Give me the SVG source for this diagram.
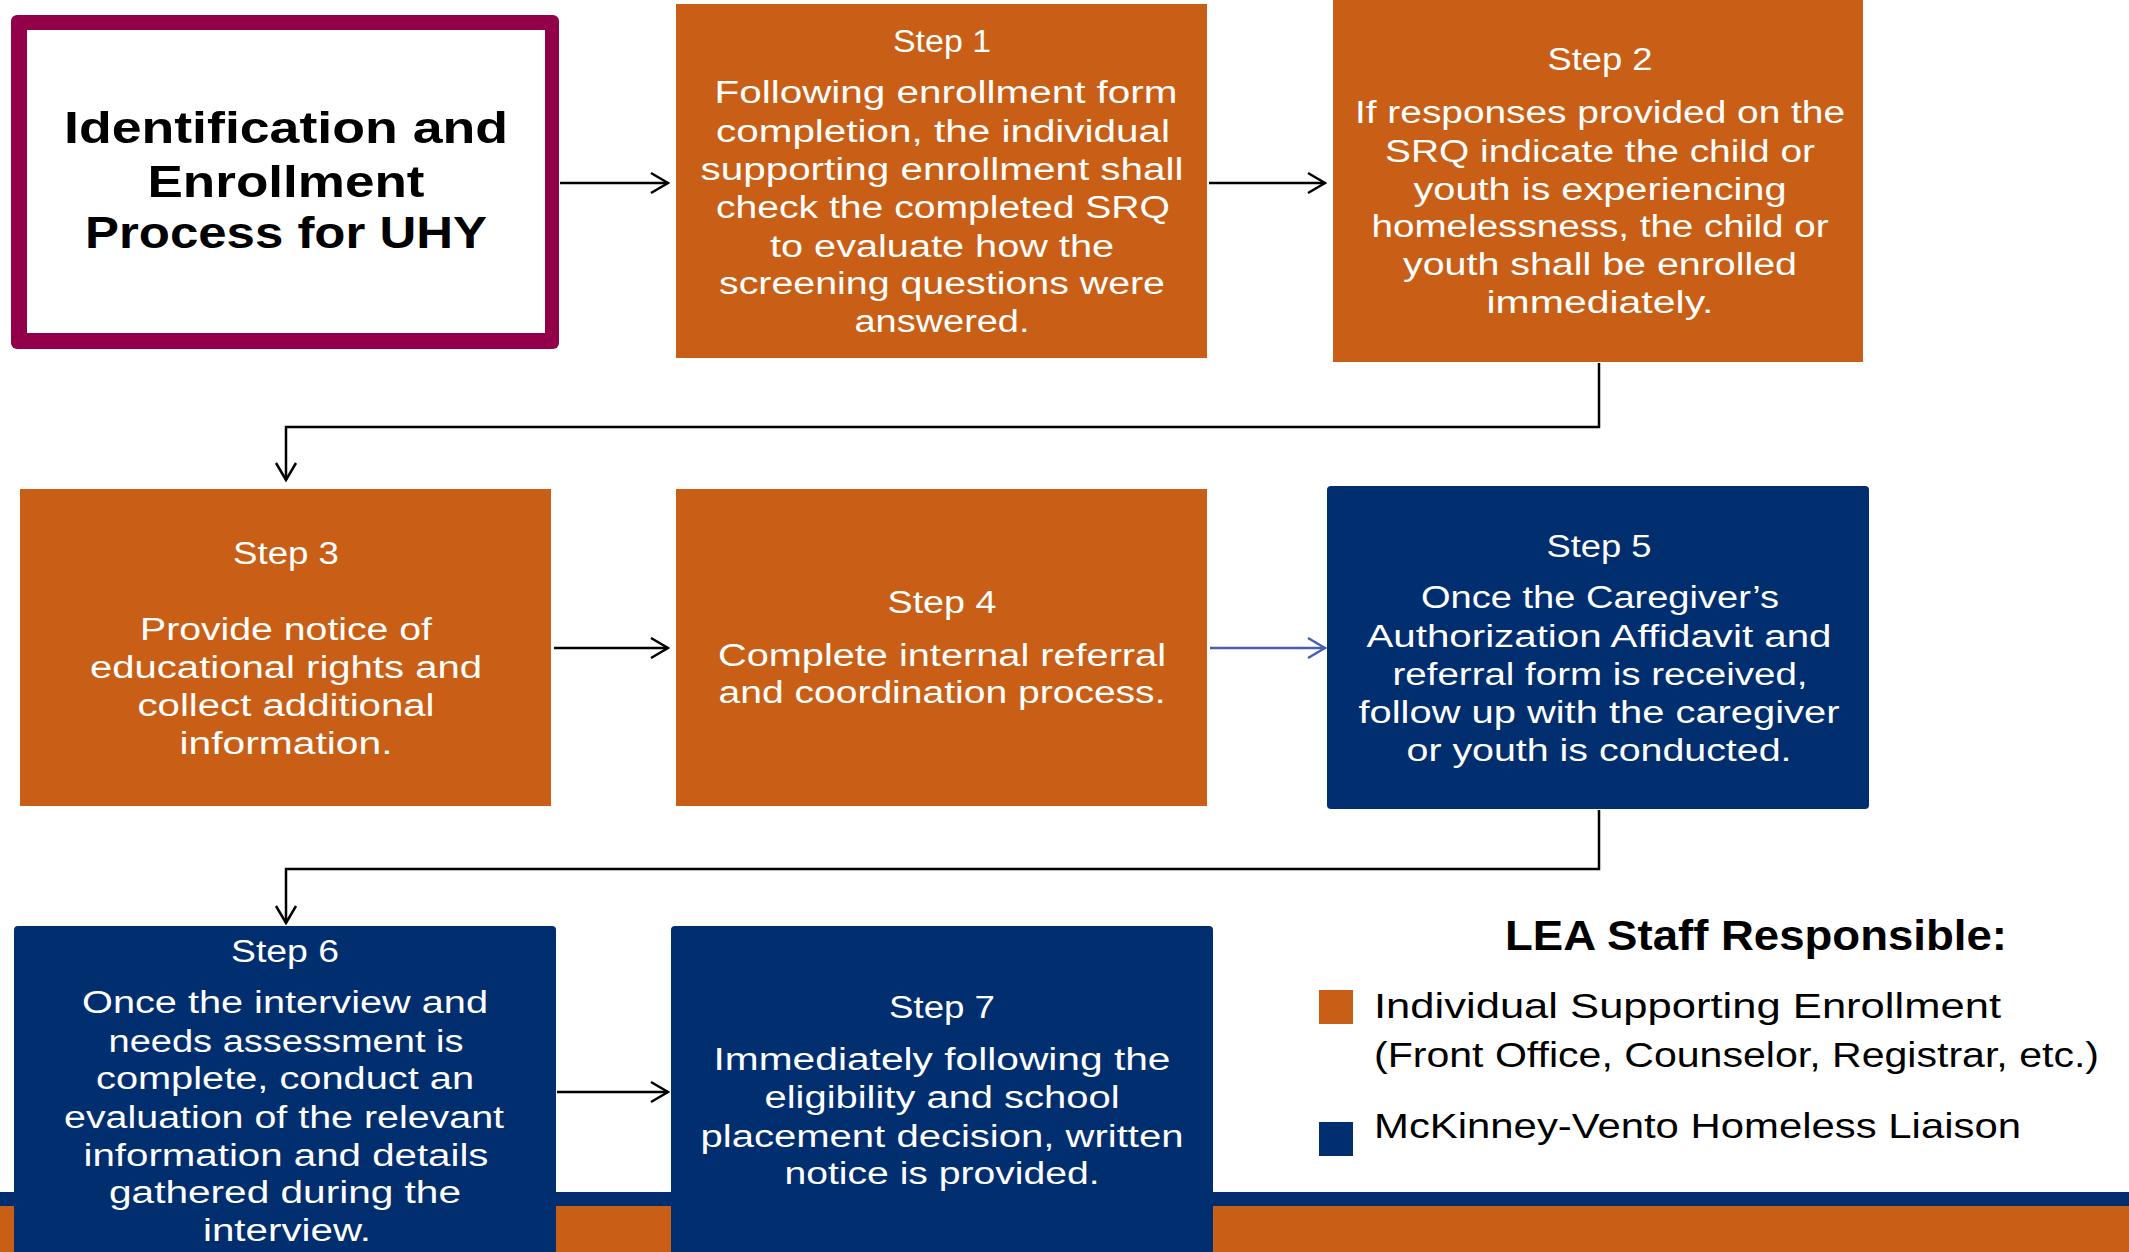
<svg xmlns="http://www.w3.org/2000/svg" width="2129" height="1252" viewBox="0 0 2129 1252">
<style>
.t{font-family:"Liberation Sans",Arial,sans-serif;font-size:31px;fill:#fff;text-anchor:middle;font-weight:400}
.title{font-family:"Liberation Sans",Arial,sans-serif;font-size:45px;font-weight:700;fill:#000;text-anchor:middle}
.lg{font-family:"Liberation Sans",Arial,sans-serif;font-size:35px;fill:#000}
.lgh{font-family:"Liberation Sans",Arial,sans-serif;font-size:42px;font-weight:700;fill:#000}
.or{fill:#C95F16}
.nv{fill:#002E6F}
.ln{fill:none;stroke:#000;stroke-width:2.5}
.lb{fill:none;stroke:#4A5EAF;stroke-width:2.5}
</style>
<defs>
<marker id="ak" viewBox="-20 -12 22 24" refX="0" refY="0" markerWidth="22" markerHeight="24" markerUnits="userSpaceOnUse" orient="auto"><path d="M-17,-10 L0,0 L-17,10" fill="none" stroke="#000" stroke-width="2.5"/></marker>
<marker id="ab" viewBox="-20 -12 22 24" refX="0" refY="0" markerWidth="22" markerHeight="24" markerUnits="userSpaceOnUse" orient="auto"><path d="M-17,-10 L0,0 L-17,10" fill="none" stroke="#4A5EAF" stroke-width="2.5"/></marker>
</defs>
<rect width="2129" height="1252" fill="#fff"/>
<g id="bands">
<rect x="0" y="1192" width="2129" height="14" class="nv"/>
<rect x="0" y="1206" width="2129" height="46" class="or"/>
</g>
<g id="title">
<rect x="11" y="15" width="548" height="334" rx="6" fill="#93004A"/>
<rect x="27" y="30" width="518" height="303" fill="#fff"/>
<text class="title" x="286" y="143" textLength="444" lengthAdjust="spacingAndGlyphs">Identification and</text>
<text class="title" x="286" y="197" textLength="277" lengthAdjust="spacingAndGlyphs">Enrollment</text>
<text class="title" x="286" y="248" textLength="402" lengthAdjust="spacingAndGlyphs">Process for UHY</text>
</g>
<g id="step1">
<rect x="676" y="4" width="531" height="354" class="or"/>
<text class="t" x="942" y="52" textLength="98" lengthAdjust="spacingAndGlyphs">Step 1</text>
<text class="t" x="946" y="103" textLength="463" lengthAdjust="spacingAndGlyphs">Following enrollment form</text>
<text class="t" x="943" y="142" textLength="454" lengthAdjust="spacingAndGlyphs">completion, the individual</text>
<text class="t" x="942" y="180" textLength="483" lengthAdjust="spacingAndGlyphs">supporting enrollment shall</text>
<text class="t" x="943" y="218" textLength="454" lengthAdjust="spacingAndGlyphs">check the completed SRQ</text>
<text class="t" x="942" y="257" textLength="344" lengthAdjust="spacingAndGlyphs">to evaluate how the</text>
<text class="t" x="942" y="294" textLength="446" lengthAdjust="spacingAndGlyphs">screening questions were</text>
<text class="t" x="942" y="332" textLength="175" lengthAdjust="spacingAndGlyphs">answered.</text>
</g>
<g id="step2">
<rect x="1333" y="0" width="530" height="362" class="or"/>
<text class="t" x="1600" y="70" textLength="105" lengthAdjust="spacingAndGlyphs">Step 2</text>
<text class="t" x="1600" y="123" textLength="490" lengthAdjust="spacingAndGlyphs">If responses provided on the</text>
<text class="t" x="1600" y="162" textLength="430" lengthAdjust="spacingAndGlyphs">SRQ indicate the child or</text>
<text class="t" x="1600" y="200" textLength="373" lengthAdjust="spacingAndGlyphs">youth is experiencing</text>
<text class="t" x="1600" y="237" textLength="457" lengthAdjust="spacingAndGlyphs">homelessness, the child or</text>
<text class="t" x="1600" y="275" textLength="394" lengthAdjust="spacingAndGlyphs">youth shall be enrolled</text>
<text class="t" x="1600" y="313" textLength="227" lengthAdjust="spacingAndGlyphs">immediately.</text>
</g>
<g id="step3">
<rect x="20" y="489" width="531" height="317" class="or"/>
<text class="t" x="286" y="564" textLength="106" lengthAdjust="spacingAndGlyphs">Step 3</text>
<text class="t" x="286" y="640" textLength="292" lengthAdjust="spacingAndGlyphs">Provide notice of</text>
<text class="t" x="286" y="678" textLength="392" lengthAdjust="spacingAndGlyphs">educational rights and</text>
<text class="t" x="286" y="716" textLength="297" lengthAdjust="spacingAndGlyphs">collect additional</text>
<text class="t" x="286" y="754" textLength="213" lengthAdjust="spacingAndGlyphs">information.</text>
</g>
<g id="step4">
<rect x="676" y="489" width="531" height="317" class="or"/>
<text class="t" x="942" y="613" textLength="109" lengthAdjust="spacingAndGlyphs">Step 4</text>
<text class="t" x="942" y="666" textLength="448" lengthAdjust="spacingAndGlyphs">Complete internal referral</text>
<text class="t" x="942" y="703" textLength="447" lengthAdjust="spacingAndGlyphs">and coordination process.</text>
</g>
<g id="step5">
<rect x="1327" y="486" width="542" height="323" rx="4" class="nv"/>
<text class="t" x="1599" y="557" textLength="105" lengthAdjust="spacingAndGlyphs">Step 5</text>
<text class="t" x="1600" y="608" textLength="358" lengthAdjust="spacingAndGlyphs">Once the Caregiver’s</text>
<text class="t" x="1599" y="647" textLength="465" lengthAdjust="spacingAndGlyphs">Authorization Affidavit and</text>
<text class="t" x="1600" y="685" textLength="415" lengthAdjust="spacingAndGlyphs">referral form is received,</text>
<text class="t" x="1599" y="723" textLength="481" lengthAdjust="spacingAndGlyphs">follow up with the caregiver</text>
<text class="t" x="1599" y="761" textLength="385" lengthAdjust="spacingAndGlyphs">or youth is conducted.</text>
</g>
<g id="step6">
<path d="M14,1252 V930 a4,4 0 0 1 4,-4 H552 a4,4 0 0 1 4,4 V1252 Z" class="nv"/>
<text class="t" x="285" y="962" textLength="108" lengthAdjust="spacingAndGlyphs">Step 6</text>
<text class="t" x="285" y="1013" textLength="406" lengthAdjust="spacingAndGlyphs">Once the interview and</text>
<text class="t" x="286" y="1052" textLength="355" lengthAdjust="spacingAndGlyphs">needs assessment is</text>
<text class="t" x="285" y="1089" textLength="378" lengthAdjust="spacingAndGlyphs">complete, conduct an</text>
<text class="t" x="284" y="1128" textLength="440" lengthAdjust="spacingAndGlyphs">evaluation of the relevant</text>
<text class="t" x="286" y="1166" textLength="405" lengthAdjust="spacingAndGlyphs">information and details</text>
<text class="t" x="285" y="1203" textLength="352" lengthAdjust="spacingAndGlyphs">gathered during the</text>
<text class="t" x="287" y="1241" textLength="168" lengthAdjust="spacingAndGlyphs">interview.</text>
</g>
<g id="step7">
<path d="M671,1252 V930 a4,4 0 0 1 4,-4 H1209 a4,4 0 0 1 4,4 V1252 Z" class="nv"/>
<text class="t" x="942" y="1018" textLength="106" lengthAdjust="spacingAndGlyphs">Step 7</text>
<text class="t" x="942" y="1070" textLength="457" lengthAdjust="spacingAndGlyphs">Immediately following the</text>
<text class="t" x="942" y="1108" textLength="355" lengthAdjust="spacingAndGlyphs">eligibility and school</text>
<text class="t" x="942" y="1147" textLength="483" lengthAdjust="spacingAndGlyphs">placement decision, written</text>
<text class="t" x="942" y="1184" textLength="315" lengthAdjust="spacingAndGlyphs">notice is provided.</text>
</g>
<g id="legend">
<text class="lgh" x="1505" y="950" textLength="502" lengthAdjust="spacingAndGlyphs">LEA Staff Responsible:</text>
<rect x="1319" y="990" width="34" height="34" class="or"/>
<text class="lg" x="1374" y="1018" textLength="627" lengthAdjust="spacingAndGlyphs">Individual Supporting Enrollment</text>
<text class="lg" x="1374" y="1067" textLength="725" lengthAdjust="spacingAndGlyphs">(Front Office, Counselor, Registrar, etc.)</text>
<rect x="1319" y="1122" width="34" height="34" class="nv"/>
<text class="lg" x="1374" y="1138" textLength="647" lengthAdjust="spacingAndGlyphs">McKinney-Vento Homeless Liaison</text>
</g>
<g id="connectors">
<path class="ln" d="M560,183 H668" marker-end="url(#ak)"/>
<path class="ln" d="M1209,183 H1325" marker-end="url(#ak)"/>
<path class="ln" d="M1599,363 V427 H286 V480" marker-end="url(#ak)"/>
<path class="ln" d="M554,648 H668" marker-end="url(#ak)"/>
<path class="lb" d="M1210,648 H1325" marker-end="url(#ab)"/>
<path class="ln" d="M1599,810 V869 H286 V923" marker-end="url(#ak)"/>
<path class="ln" d="M557,1092 H668" marker-end="url(#ak)"/>
</g>
</svg>
